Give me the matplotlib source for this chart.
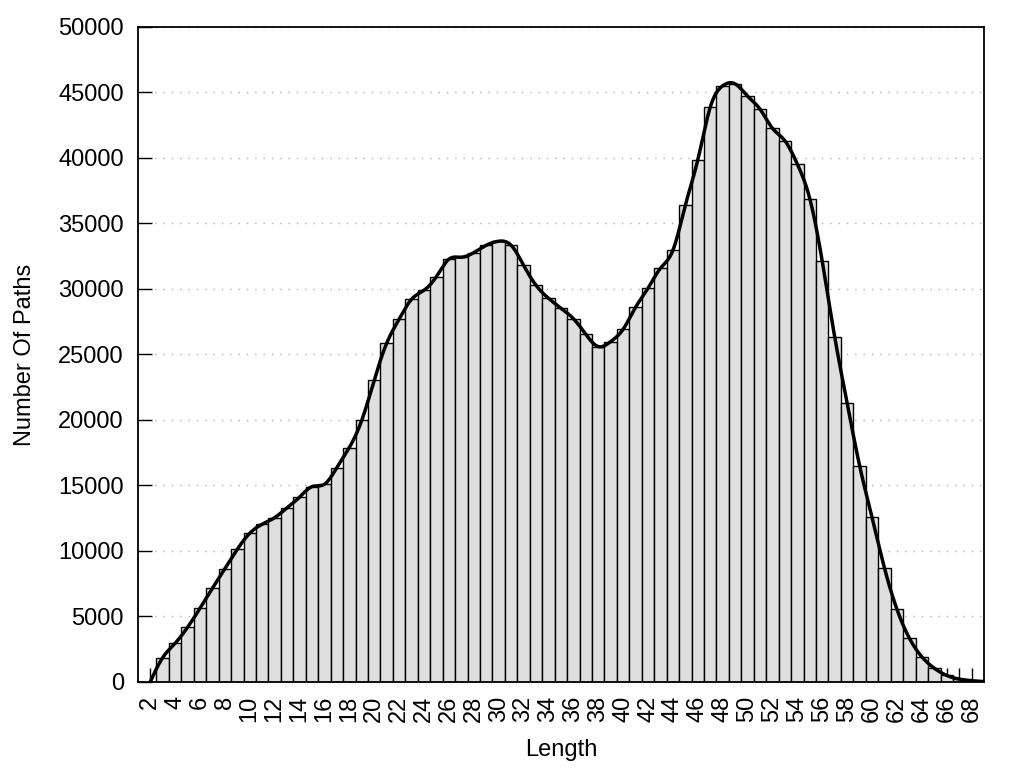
import numpy as np
import matplotlib
matplotlib.use('Agg')
import matplotlib.pyplot as plt

plt.rcParams['font.family'] = ['Liberation Sans', 'DejaVu Sans']

# path length and number of paths
lengths = list(range(2, 70))
paths = [0, 1850, 2950, 4170, 5620, 7150, 8650, 10130, 11350, 12040,
         12540, 13300, 14100, 14910, 15090, 16360, 17890, 19970, 23030, 25850,
         27690, 29210, 29900, 30940, 32270, 32420, 32770, 33330, 33640, 33330,
         31810, 30280, 29290, 28530, 27730, 26540, 25600, 25980, 26920, 28600,
         30050, 31580, 32950, 36390, 39850, 43870, 45500, 45650, 44710, 43720,
         42260, 41300, 39520, 36880, 32100, 26330, 21280, 16510, 12560, 8690,
         5550, 3340, 1920, 1050, 500, 220, 100, 30]

yticks = list(range(0, 50001, 5000))


def natural_spline(x, y, n=2000):
    # natural cubic spline through the points (like gnuplot smooth csplines)
    x = np.asarray(x, float)
    y = np.asarray(y, float)
    k = len(x)
    h = np.diff(x)
    A = np.zeros((k, k))
    r = np.zeros(k)
    A[0, 0] = 1
    A[-1, -1] = 1
    for i in range(1, k - 1):
        A[i, i - 1] = h[i - 1]
        A[i, i] = 2 * (h[i - 1] + h[i])
        A[i, i + 1] = h[i]
        r[i] = 6 * ((y[i + 1] - y[i]) / h[i] - (y[i] - y[i - 1]) / h[i - 1])
    m = np.linalg.solve(A, r)
    xs = np.linspace(x[0], x[-1], n)
    idx = np.clip(np.searchsorted(x, xs) - 1, 0, k - 2)
    x0, x1 = x[idx], x[idx + 1]
    hh = x1 - x0
    a = (x1 - xs) / hh
    b = (xs - x0) / hh
    ys = (a * y[idx] + b * y[idx + 1]
          + ((a ** 3 - a) * m[idx] + (b ** 3 - b) * m[idx + 1]) * hh ** 2 / 6)
    return xs, ys


fig = plt.figure(figsize=(10.24, 7.68), dpi=100)
ax = fig.add_axes([0.1345, 0.112, 0.8265, 0.853])

ax.bar(lengths, paths, width=1.0, color='#dfdfdf', edgecolor='black',
       linewidth=1.0, zorder=2)

xs, ys = natural_spline(lengths, paths)
ax.plot(xs, ys, color='black', linewidth=2.5, zorder=3)

ax.set_xlim(1, 69)
ax.set_ylim(0, 50000)
ax.set_yticks(yticks)
ax.set_xticks(lengths[:-1])
ax.set_xticklabels([str(v) if v % 2 == 0 else '' for v in lengths[:-1]],
                   rotation=90)

ax.tick_params(axis='both', direction='in', length=10, width=1,
               labelsize=17, pad=10)
ax.set_axisbelow(True)
ax.grid(axis='y', color='#b0b0b0', linestyle=(0, (1, 5)), linewidth=1)

for s in ax.spines.values():
    s.set_linewidth(1.3)
    s.set_zorder(4)

ax.set_xlabel('Length', fontsize=17, labelpad=12)
ax.set_ylabel('Number Of Paths', fontsize=17, labelpad=16)

fig.savefig('out.png', dpi=100)
